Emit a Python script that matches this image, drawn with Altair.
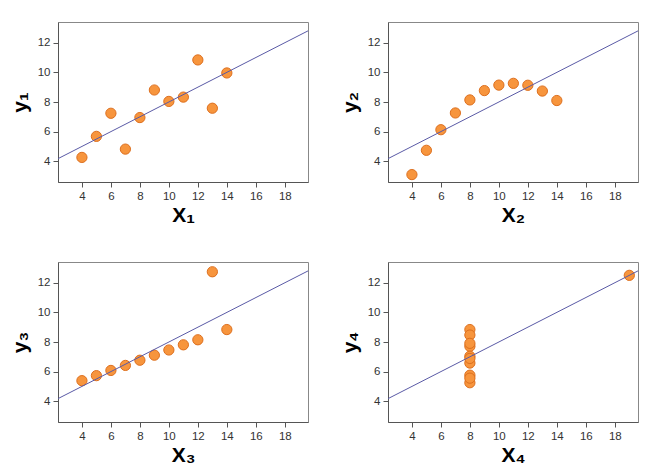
import altair as alt
import pandas as pd

# Anscombe's quartet
x123 = [10, 8, 13, 9, 11, 14, 6, 4, 12, 7, 5]
y1 = [8.04, 6.95, 7.58, 8.81, 8.33, 9.96, 7.24, 4.26, 10.84, 4.82, 5.68]
y2 = [9.14, 8.14, 8.74, 8.77, 9.26, 8.10, 6.13, 3.10, 9.13, 7.26, 4.74]
y3 = [7.46, 6.77, 12.74, 7.11, 7.81, 8.84, 6.08, 5.39, 8.15, 6.42, 5.73]
x4 = [8, 8, 8, 8, 8, 8, 8, 19, 8, 8, 8]
y4 = [6.58, 5.76, 7.71, 8.84, 8.47, 7.04, 5.25, 12.50, 5.56, 7.91, 6.89]

x_ticks = [4, 6, 8, 10, 12, 14, 16, 18]
y_ticks = [4, 6, 8, 10, 12]
subs = ["\u2081", "\u2082", "\u2083", "\u2084"]

X_DOMAIN = [2.35, 19.6]
Y_DOMAIN = [2.6, 13.4]

FILL = "#F7953D"
STROKE = "#DD6F1E"
LINE = "#5A5AA6"


def panel(xs, ys, sub):
    df = pd.DataFrame({"x": xs, "y": ys})
    base = alt.Chart(df)
    xenc = alt.X(
        "x:Q",
        scale=alt.Scale(domain=X_DOMAIN, nice=False, zero=False),
        axis=alt.Axis(values=x_ticks, title="X" + sub, labelOverlap=False,
                      labelFlush=False, titlePadding=3),
    )
    yenc = alt.Y(
        "y:Q",
        scale=alt.Scale(domain=Y_DOMAIN, nice=False, zero=False),
        axis=alt.Axis(values=y_ticks, title="y" + sub, labelOverlap=False,
                      labelFlush=False, titlePadding=7),
    )
    pts = base.mark_circle(
        size=105, fill=FILL, stroke=STROKE, strokeWidth=1, opacity=1, fillOpacity=1
    ).encode(x=xenc, y=yenc)
    line = (
        base.transform_regression("x", "y", extent=X_DOMAIN)
        .mark_line(color=LINE, strokeWidth=1, clip=True)
        .encode(x=xenc, y=yenc)
    )
    return alt.layer(pts, line).properties(width=250, height=160)


panels = [
    panel(x123, y1, subs[0]),
    panel(x123, y2, subs[1]),
    panel(x123, y3, subs[2]),
    panel(x4, y4, subs[3]),
]

chart = (
    alt.concat(*panels, columns=2, spacing=80, bounds="flush")
    .properties(padding={"left": 0, "top": 13, "right": 5, "bottom": 5})
    .configure_view(stroke="#888888", strokeWidth=1)
    .configure_axis(
        grid=False,
        domainColor="#555555",
        domainWidth=1,
        tickColor="#555555",
        tickSize=5,
        labelFont="Liberation Sans",
        labelFontSize=11.5,
        labelColor="#333333",
        labelPadding=3,
        titleFont="Liberation Sans",
        titleFontSize=21,
        titleFontWeight="bold",
        titleColor="#000000",
    )
)

chart.save("out.html", embed_options={"renderer": "svg", "actions": False})
